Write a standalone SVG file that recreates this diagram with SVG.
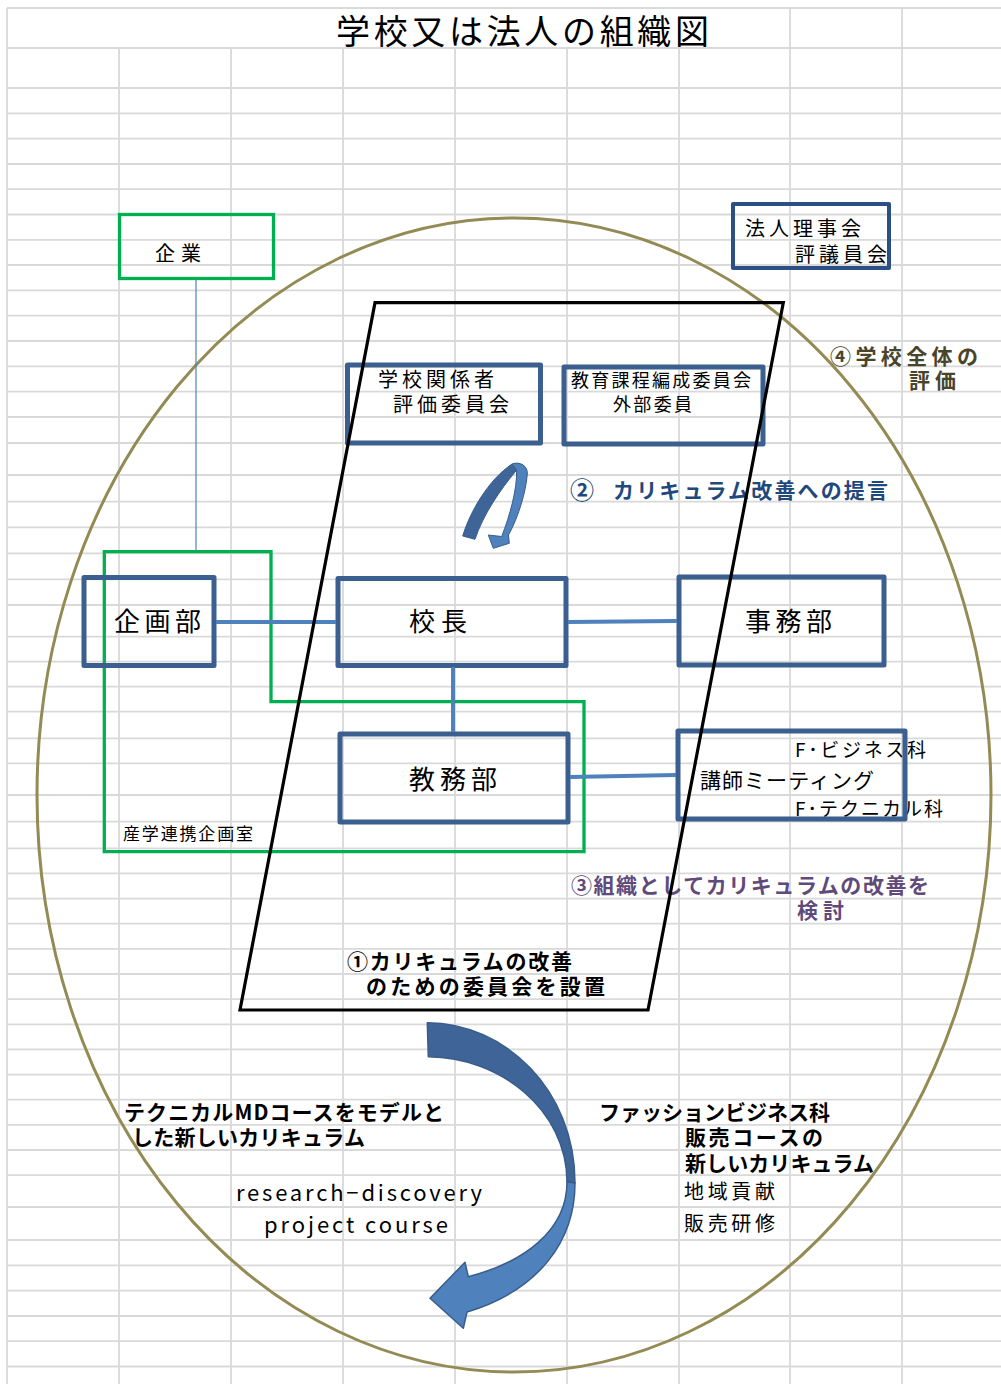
<svg xmlns="http://www.w3.org/2000/svg" width="1001" height="1384" viewBox="0 0 1001 1384">
<style>
.t{font-family:"Noto Sans CJK JP","Liberation Sans",sans-serif;fill:#000}
.b{font-weight:700}
.grid{stroke:#D9D9D9;stroke-width:1.8;fill:none}
.box{fill:none;stroke:#3B5F8E;stroke-width:5;stroke-linejoin:round}
.gbox{fill:none;stroke:#00B050;stroke-width:3.3}
.conn{stroke:#4F81BD;stroke-width:4;fill:none}
</style>
<rect width="1001" height="1384" fill="#fff"/>
<g id="grid" class="grid">
<path d="M7,8V1384M119,48V1384M231,48V1384M343,48V1384M455,48V1384M567,48V1384M679,48V1384M790,8V1384M902,8V1384"/>
<path d="M7,8H1001M7,48H1001M7,88H1001M7,113.3H1001M7,138.6H1001M7,164H1001M7,189.2H1001M7,214.5H1001M7,239.8H1001M7,265H1001M7,290.4H1001M7,315.7H1001M7,341H1001M7,366.3H1001M7,391.6H1001M7,417H1001M7,443H1001M7,475H1001M7,501.7H1001M7,527.3H1001M7,553.3H1001M7,579.3H1001M7,605H1001M7,636.7H1001M7,661.7H1001M7,686.7H1001M7,711.7H1001M7,738.3H1001M7,763.3H1001M7,795H1001M7,821.7H1001M7,848.3H1001M7,873.4H1001M7,898.6H1001M7,923.7H1001M7,948.9H1001M7,974H1001M7,999.1H1001M7,1024.3H1001M7,1049.4H1001M7,1074.6H1001M7,1099.7H1001M7,1124.9H1001M7,1150H1001M7,1175.1H1001M7,1207H1001M7,1240H1001M7,1265.3H1001M7,1290.6H1001M7,1316H1001M7,1341.2H1001M7,1366.5H1001"/>
</g>
<g id="texts">
<text class="t" x="336" y="44" font-size="34" textLength="373" lengthAdjust="spacing">学校又は法人の組織図</text>
<text class="t b" x="570" y="499" font-size="24" style="fill:#1F497D">②</text>
<text class="t b" x="613" y="498" font-size="21" textLength="275" lengthAdjust="spacing" style="fill:#1F497D">カリキュラム改善への提言</text>
<text class="t b" x="830" y="364" font-size="21" textLength="148" lengthAdjust="spacing" style="fill:#4A452A">④学校全体の</text>
<text class="t b" x="909" y="388" font-size="21" textLength="47" lengthAdjust="spacing" style="fill:#4A452A">評価</text>
<text class="t b" x="571" y="893" font-size="21" textLength="358" lengthAdjust="spacing" style="fill:#604A7B">③組織としてカリキュラムの改善を</text>
<text class="t b" x="797" y="918" font-size="21" textLength="47" lengthAdjust="spacing" style="fill:#604A7B">検討</text>
<text class="t b" x="347" y="969" font-size="21" textLength="225" lengthAdjust="spacing">①カリキュラムの改善</text>
<text class="t b" x="366" y="994" font-size="21" textLength="239" lengthAdjust="spacing">のための委員会を設置</text>
<text class="t b" x="124" y="1120" font-size="21" textLength="320" lengthAdjust="spacing">テクニカルMDコースをモデルと</text>
<text class="t b" x="132" y="1145" font-size="21" textLength="233" lengthAdjust="spacing">した新しいカリキュラム</text>
<text class="t" x="236" y="1201" font-size="22" textLength="246" lengthAdjust="spacing">research−discovery</text>
<text class="t" x="264" y="1233" font-size="22" textLength="184" lengthAdjust="spacing">project course</text>
<text class="t b" x="599" y="1120" font-size="21" textLength="231" lengthAdjust="spacing">ファッションビジネス科</text>
<text class="t b" x="685" y="1145" font-size="21" textLength="138" lengthAdjust="spacing">販売コースの</text>
<text class="t b" x="685" y="1171" font-size="21" textLength="189" lengthAdjust="spacing">新しいカリキュラム</text>
<text class="t" x="684" y="1199" font-size="20" textLength="91" lengthAdjust="spacing">地域貢献</text>
<text class="t" x="684" y="1231" font-size="20" textLength="91" lengthAdjust="spacing">販売研修</text>
<text class="t" x="795" y="757" font-size="19" textLength="131" lengthAdjust="spacing">F･ビジネス科</text>
<text class="t" x="795" y="816" font-size="19" textLength="148" lengthAdjust="spacing">F･テクニカル科</text>
<text class="t" x="123" y="840" font-size="17" textLength="130" lengthAdjust="spacing">産学連携企画室</text>
</g>
<g id="boundary">
<ellipse cx="514" cy="795" rx="477" ry="577" fill="none" stroke="#948A54" stroke-width="3"/>
</g>
<g id="n-kigyo">
<rect class="gbox" x="119.5" y="214.5" width="154" height="64"/>
<text class="t" x="155" y="261" font-size="20" textLength="46" lengthAdjust="spacing">企業</text>
</g>
<g id="n-sangaku">
<path class="gbox" d="M104.3,551.7H271V701.7H584V851.7H104.3Z"/>
</g>
<g id="n-houjin">
<rect x="733" y="204" width="156" height="64" fill="none" stroke="#2A5085" stroke-width="4" stroke-linejoin="round"/>
<text class="t" x="745" y="236" font-size="20" textLength="116" lengthAdjust="spacing">法人理事会</text>
<text class="t" x="795" y="262" font-size="20" textLength="92" lengthAdjust="spacing">評議員会</text>
</g>
<g id="n-hyouka">
<rect class="box" x="347.5" y="365" width="193" height="78"/>
<text class="t" x="378" y="387" font-size="20" textLength="116" lengthAdjust="spacing">学校関係者</text>
<text class="t" x="393" y="412" font-size="20" textLength="116" lengthAdjust="spacing">評価委員会</text>
</g>
<g id="n-kyouiku">
<rect class="box" x="564" y="367" width="199" height="77" stroke-width="4"/>
<text class="t" x="571" y="387" font-size="18" textLength="180" lengthAdjust="spacing">教育課程編成委員会</text>
<text class="t" x="613" y="411" font-size="18" textLength="79" lengthAdjust="spacing">外部委員</text>
</g>
<g id="n-kikaku">
<rect class="box" x="84" y="577.5" width="130" height="88"/>
<text class="t" x="114" y="631" font-size="26" textLength="87" lengthAdjust="spacing">企画部</text>
</g>
<g id="n-kouchou">
<rect class="box" x="338" y="578.5" width="228" height="87"/>
<text class="t" x="409" y="631" font-size="26" textLength="58" lengthAdjust="spacing">校長</text>
</g>
<g id="n-jimu">
<rect class="box" x="679" y="577" width="205" height="88"/>
<text class="t" x="745" y="631" font-size="26" textLength="87" lengthAdjust="spacing">事務部</text>
</g>
<g id="n-kyoumu">
<rect class="box" x="340" y="734" width="228" height="88"/>
<text class="t" x="409" y="789" font-size="26" textLength="88" lengthAdjust="spacing">教務部</text>
</g>
<g id="n-koushi">
<rect class="box" x="678" y="731" width="227" height="88"/>
<text class="t" x="700" y="788" font-size="21" textLength="174" lengthAdjust="spacing">講師ミーティング</text>
</g>
<g id="connectors">
<path d="M196,279V551" stroke="#4F81BD" stroke-width="1.2" fill="none"/>
<path class="conn" d="M216,622H336"/>
<path class="conn" d="M568,622L677,621"/>
<path class="conn" d="M453,667V732"/>
<path class="conn" d="M570,777L676,775"/>
<g id="arrow-small" stroke="#385D8A" stroke-width="1">
<path fill="#3F6598" d="M462.7,536C470,512 488,480 512,464L516.7,470C500,490 483,515 475,539.3Z"/>
<path fill="#4F81BD" d="M512,464C520,461 528,466 527.3,474C526,492 518,518 508.5,535L509.3,543.3L493.3,548.3L488.3,535L501.7,536.5C510,515 517,490 516.7,470Z"/>
</g>
<g id="arrow-big" stroke="#385D8A" stroke-width="1.5" stroke-linejoin="round">
<path fill="#3F6598" d="M427.3,1022.7C505,1023 575,1090 575,1183L567,1182C567,1110 500,1057 428.3,1056.7Z"/>
<path fill="#4F81BD" d="M575,1183C575,1240 540,1290 467,1312L463.3,1328.3L430,1298.3L465,1262.3L468.3,1276.7C525,1262 567,1230 567,1182Z"/>
</g>
</g>
<g id="committee">
<path d="M375,302.7H783.3L648,1010H240Z" fill="none" stroke="#000" stroke-width="3.2" stroke-linejoin="miter"/>
</g>
</svg>
